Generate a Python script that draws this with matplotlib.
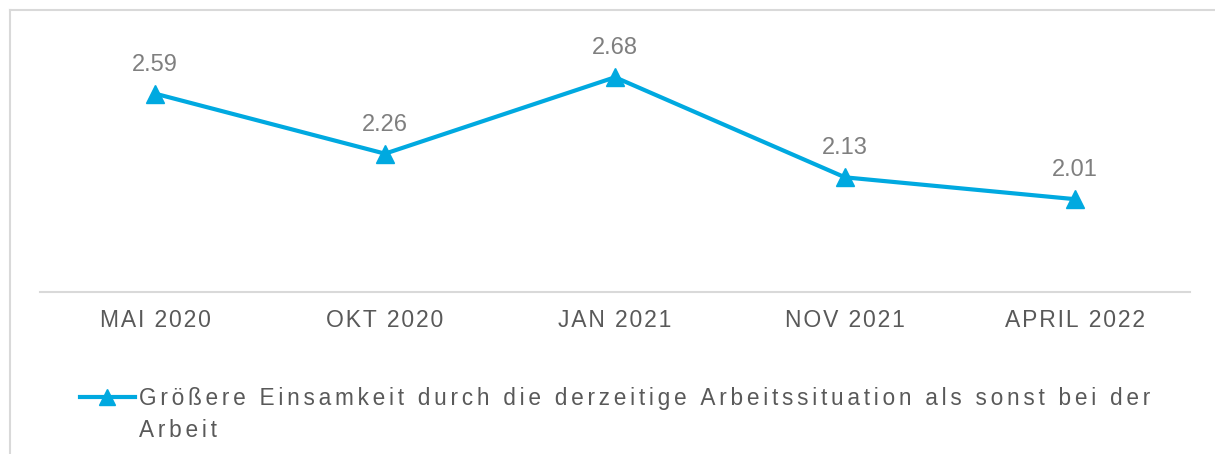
import matplotlib
matplotlib.use("Agg")
import matplotlib.pyplot as plt
from matplotlib.lines import Line2D

plt.rcParams['font.family'] = ['Liberation Sans', 'DejaVu Sans']

# data
categories = ['MAI 2020', 'OKT 2020', 'JAN 2021', 'NOV 2021', 'APRIL 2022']
values = [2.59, 2.26, 2.68, 2.13, 2.01]
series_name = ('Größere Einsamkeit durch die derzeitige Arbeitssituation als sonst bei der\n'
               'Arbeit')

BLUE = '#00A9E0'
TEXT = '#595959'
VALTXT = '#7F7F7F'
BORDER = '#D9D9D9'


def spaced(s, gap='\u200a'):
    # fake letter spacing with hair / six-per-em spaces
    return '\n'.join(gap.join(line) for line in s.split('\n'))


W, H = 1215, 454
fig = plt.figure(figsize=(W / 100, H / 100), dpi=100)
ax = fig.add_axes([40 / W, 162 / H, 1150 / W, 273 / H])

x = range(len(categories))
ax.plot(x, values, color=BLUE, lw=3, marker='^', ms=13, solid_joinstyle='miter')
for xi, v in zip(x, values):
    ax.annotate(f'{v:.2f}', (xi, v), xytext=(0, 16.5), textcoords='offset points',
                ha='center', va='baseline', fontsize=17, color=VALTXT)

ax.set_xlim(-0.5, len(categories) - 0.5)
ax.set_ylim(1.5, 3.0)
ax.set_yticks([])
ax.set_xticks(list(x))
ax.set_xticklabels([spaced(c) for c in categories], fontsize=16.5, color=TEXT)
ax.tick_params(axis='x', length=0, pad=12)
for side in ['top', 'right', 'left']:
    ax.spines[side].set_visible(False)
ax.spines['bottom'].set_color(BORDER)
ax.spines['bottom'].set_linewidth(1.5)

# legend, drawn by hand so the key sits on the first line
ly = 1 - 397 / H
fig.add_artist(Line2D([80 / W, 135 / W], [ly, ly], color=BLUE, lw=3))
fig.add_artist(Line2D([107 / W], [ly], color=BLUE, marker='^', ms=11, lw=0))
fig.text(139 / W, 1 - 387.5 / H, spaced(series_name, '\u2006'), fontsize=16.3, color=TEXT,
         ha='left', va='top', linespacing=1.45)

# outer border (top and left)
fig.add_artist(Line2D([10 / W, 1], [1 - 10 / H, 1 - 10 / H], color=BORDER, lw=1.5))
fig.add_artist(Line2D([10 / W, 10 / W], [0, 1 - 10 / H], color=BORDER, lw=1.5))

fig.savefig('out.png', dpi=100)
